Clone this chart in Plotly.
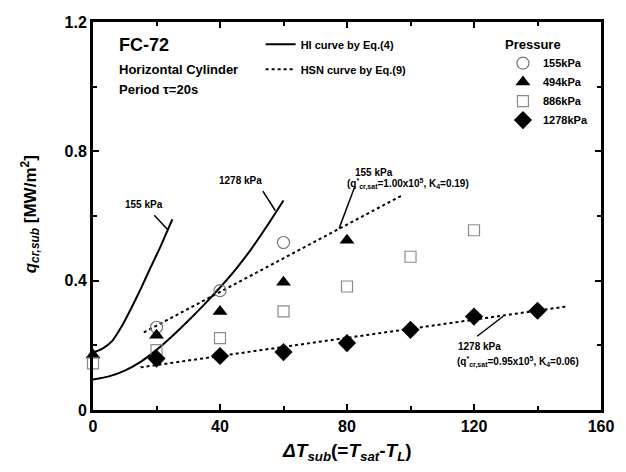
import plotly.graph_objects as go

# ---- data ----
x_155 = [20, 40, 60]
q_155 = [0.256, 0.369, 0.518]
x_494 = [0, 20, 40, 60, 80]
q_494 = [0.17, 0.231, 0.305, 0.395, 0.525]
x_886 = [0, 20, 40, 60, 80, 100, 120]
q_886 = [0.144, 0.185, 0.222, 0.305, 0.382, 0.474, 0.556]
x_1278 = [20, 40, 60, 80, 100, 120, 140]
q_1278 = [0.159, 0.167, 0.179, 0.207, 0.248, 0.289, 0.307]

hi155_x = [0, 3, 6, 9, 12, 15, 18, 21, 23, 25]
hi155_y = [0.178, 0.19, 0.213, 0.258, 0.314, 0.374, 0.438, 0.5, 0.545, 0.59]
hi1278_x = [0, 5, 10, 15, 20, 25, 30, 35, 40, 45, 50, 55, 60]
hi1278_y = [0.094, 0.104, 0.122, 0.149, 0.186, 0.229, 0.276, 0.326, 0.379, 0.436, 0.5, 0.572, 0.648]
hsn155_x = [16, 97]
hsn155_y = [0.24, 0.662]
hsn1278_x = [15, 149]
hsn1278_y = [0.132, 0.32]

x_ticks = [0, 40, 80, 120, 160]
x_ticktext = ["0", "40", "80", "120", "160"]
y_ticks = [0, 0.4, 0.8, 1.2]
y_ticktext = ["0", "0.4", "0.8", "1.2"]

FONT = "Liberation Sans, Arial, sans-serif"

fig = go.Figure()

# model curves
fig.add_trace(go.Scatter(x=hi155_x, y=hi155_y, mode="lines", line=dict(color="black", width=2, shape="spline", smoothing=0.6),
                         name="HI curve by Eq.(4)", legend="legend2", legendgroup="hi", showlegend=True, cliponaxis=False))
fig.add_trace(go.Scatter(x=hi1278_x, y=hi1278_y, mode="lines", line=dict(color="black", width=2, shape="spline", smoothing=0.6),
                         name="HI curve by Eq.(4)", legend="legend2", legendgroup="hi", showlegend=False, cliponaxis=False))
fig.add_trace(go.Scatter(x=hsn155_x, y=hsn155_y, mode="lines", line=dict(color="black", width=2, dash="3px,3px"),
                         name="HSN curve by Eq.(9)", legend="legend2", legendgroup="hsn", showlegend=True))
fig.add_trace(go.Scatter(x=hsn1278_x, y=hsn1278_y, mode="lines", line=dict(color="black", width=2, dash="3px,3px"),
                         name="HSN curve by Eq.(9)", legend="legend2", legendgroup="hsn", showlegend=False))

# experimental points
fig.add_trace(go.Scatter(x=x_155, y=q_155, mode="markers", name="155kPa",
                         marker=dict(symbol="circle-open", size=12, color="#777777", line=dict(width=1.2)), cliponaxis=False))
fig.add_trace(go.Scatter(x=x_494, y=q_494, mode="markers", name="494kPa",
                         marker=dict(symbol="triangle-up", size=13, color="black"), cliponaxis=False))
fig.add_trace(go.Scatter(x=x_886, y=q_886, mode="markers", name="886kPa",
                         marker=dict(symbol="square-open", size=11, color="#8a8a8a", line=dict(width=1.2)), cliponaxis=False))
fig.add_trace(go.Scatter(x=x_1278, y=q_1278, mode="markers", name="1278kPa",
                         marker=dict(symbol="diamond", size=14, color="black"), cliponaxis=False))

ann = []
def txt(x, y, s, size=11, xanchor="center", xref="x", yref="y", angle=0):
    ann.append(dict(x=x, y=y, xref=xref, yref=yref, text=s, showarrow=False, xanchor=xanchor,
                    yanchor="middle", textangle=angle, font=dict(size=size, family=FONT, color="black", weight="bold")))

txt(7.5, 1.129, "FC-72", size=18, xanchor="left")
txt(7.5, 1.052, "Horizontal Cylinder", size=13, xanchor="left")
txt(7.5, 0.99, "Period τ=20s", size=13, xanchor="left")

txt(16.1, 0.637, "155 kPa", size=10)
txt(46.4, 0.711, "1278 kPa", size=10)
txt(88.6, 0.735, "155 kPa", size=10)
txt(79.5, 0.698, "(q<sup>*</sup><sub>cr,sat</sub>=1.00x10<sup>5</sup>, K<sub>4</sub>=0.19)", size=10, xanchor="left")
txt(114.2, 0.196, "1278 kPa", size=10, xanchor="left")
txt(114.0, 0.148, "(q<sup>*</sup><sub>cr,sat</sub>=0.95x10<sup>5</sup>, K<sub>4</sub>=0.06)", size=10, xanchor="left")

txt(-0.123, 0.503, "<i>q</i><sub><i>cr,sub</i></sub> [MW/m<sup>2</sup>]", size=17, xref="paper", yref="paper", angle=-90)
txt(0.5, -0.108, "<i>ΔT</i><sub><i>sub</i></sub>(=<i>T</i><sub><i>sat</i></sub>-<i>T</i><sub><i>L</i></sub>)", size=19,
    xref="paper", yref="paper")

leaders = [
    (19.3, 0.602, 23.7, 0.556),
    (53.5, 0.677, 57.4, 0.617),
    (82.5, 0.692, 77.5, 0.561),
    (121.0, 0.228, 129.2, 0.29),
]
shapes = [dict(type="line", x0=a, y0=b, x1=c, y1=d, xref="x", yref="y", line=dict(color="black", width=1.5))
          for a, b, c, d in leaders]

axis_common = dict(showline=True, linecolor="black", linewidth=3, mirror="ticks", ticks="inside",
                   ticklen=6, tickwidth=2, tickcolor="black", showgrid=False, zeroline=False,
                   tickfont=dict(size=16, family=FONT, color="black", weight="bold"))

fig.update_layout(
    width=626, height=472,
    margin=dict(l=93, r=19, t=22, b=62),
    paper_bgcolor="white", plot_bgcolor="white",
    font=dict(family=FONT, color="black", weight="bold"),
    xaxis=dict(range=[0, 160], tickvals=x_ticks, ticktext=x_ticktext,
               minor=dict(dtick=20, ticks="inside", ticklen=4, tickwidth=1.5, tickcolor="black"), **axis_common),
    yaxis=dict(range=[0, 1.2], tickvals=y_ticks, ticktext=y_ticktext,
               minor=dict(dtick=0.2, ticks="inside", ticklen=4, tickwidth=1.5, tickcolor="black"), **axis_common),
    legend=dict(x=0.807, y=0.975, xanchor="left", yanchor="top", bgcolor="rgba(0,0,0,0)",
                title=dict(text="Pressure", font=dict(size=13, family=FONT, weight="bold")),
                font=dict(size=11, family=FONT, weight="bold"), itemwidth=30, tracegroupgap=0),
    legend2=dict(x=0.33, y=0.98, xanchor="left", yanchor="top", bgcolor="rgba(0,0,0,0)",
                 font=dict(size=11, family=FONT, weight="bold"), traceorder="grouped", tracegroupgap=6),
    annotations=ann,
    shapes=shapes,
)

fig.write_html("out.html")
